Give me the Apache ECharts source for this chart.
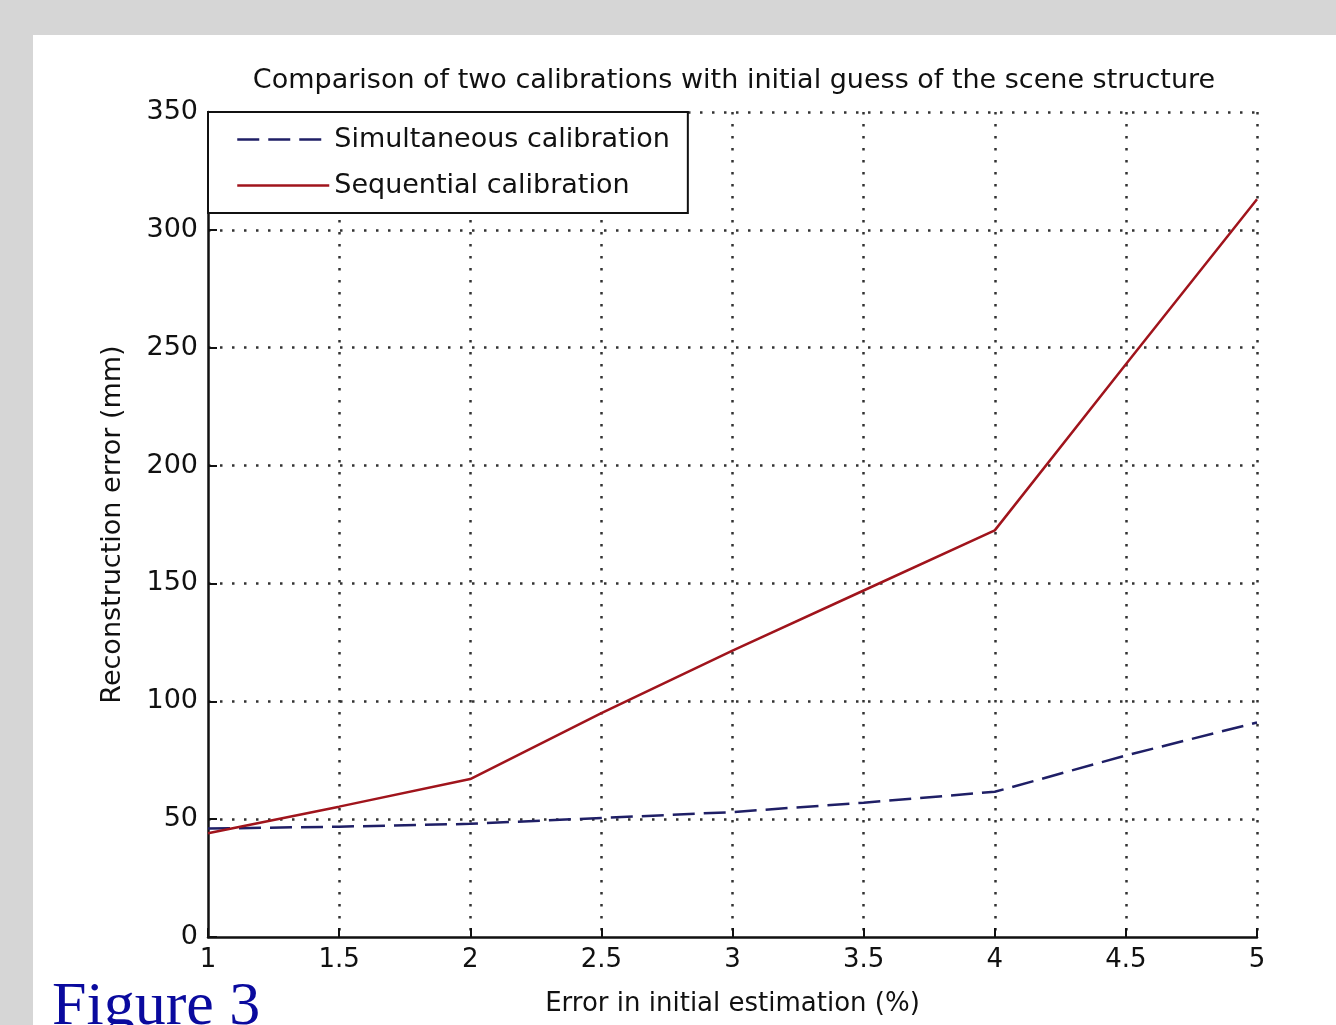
<!DOCTYPE html>
<html>
<head>
<meta charset="utf-8">
<script src="https://cdn.jsdelivr.net/npm/echarts@6/dist/echarts.min.js"></script>
<style>
html,body{margin:0;padding:0;width:1336px;height:1025px;overflow:hidden;background:#d6d6d6;}
#chart{position:absolute;left:33px;top:35px;width:1303px;height:990px;background:#ffffff;}
</style>
</head>
<body>
<div id="chart"></div>
<script>
// Data
var xValues = [1, 1.5, 2, 2.5, 3, 3.5, 4, 4.5, 5];
var simultaneous = [46, 46.8, 48, 50.5, 53, 57, 61.6, 77, 91];
var sequential = [44, 55.3, 67, 95, 121.5, 147, 172.5, 243, 313];
var seriesNames = ['Simultaneous calibration', 'Sequential calibration'];
var titleText = 'Comparison of two calibrations with initial guess of the scene structure';
var xAxisName = 'Error in initial estimation (%)';
var yAxisName = 'Reconstruction error (mm)';
var figureLabel = 'Figure 3';

function pairs(xs, ys) { return xs.map(function (x, i) { return [x, ys[i]]; }); }

var FONT = 'DejaVu Sans';
var chart = echarts.init(document.getElementById('chart'));
chart.setOption({
  backgroundColor: '#ffffff',
  animation: false,
  title: {
    text: titleText,
    left: 696,
    top: 27,
    textAlign: 'center',
    textStyle: { fontFamily: FONT, fontSize: 27, fontWeight: 'normal', color: '#111' }
  },
  grid: { left: 175, top: 77, right: 79, bottom: 88, containLabel: false },
  legend: {
    left: 175,
    top: 77,
    orient: 'vertical',
    backgroundColor: '#ffffff',
    borderColor: '#111',
    borderWidth: 2,
    borderRadius: 0,
    padding: [14, 18, 14, 28],
    itemGap: 19,
    itemWidth: 92,
    itemHeight: 27,
    itemStyle: { opacity: 0 },
    lineStyle: { width: 2.5 },
    textStyle: { fontFamily: FONT, fontSize: 27, color: '#111' },
    data: seriesNames
  },
  xAxis: {
    type: 'value',
    min: 1, max: 5, interval: 0.5,
    name: xAxisName,
    nameLocation: 'middle',
    nameGap: 54,
    nameTextStyle: { fontFamily: FONT, fontSize: 26, color: '#111' },
    axisLine: { show: true, onZero: false, lineStyle: { color: '#111', width: 2.5 } },
    axisTick: { show: true, inside: true, length: 9, lineStyle: { color: '#111', width: 2 } },
    axisLabel: { fontFamily: FONT, fontSize: 26, color: '#111', margin: 10 },
    splitLine: { show: true, showMinLine: false, lineStyle: { color: '#333', width: 2.5, type: [2.5, 9.5] } }
  },
  yAxis: {
    type: 'value',
    min: 0, max: 350, interval: 50,
    name: yAxisName,
    nameLocation: 'middle',
    nameGap: 82,
    nameTextStyle: { fontFamily: FONT, fontSize: 27, color: '#111' },
    axisLine: { show: true, onZero: false, lineStyle: { color: '#111', width: 2.5 } },
    axisTick: { show: true, inside: true, length: 9, lineStyle: { color: '#111', width: 2 } },
    axisLabel: { fontFamily: FONT, fontSize: 27, color: '#111', margin: 10 },
    splitLine: { show: true, showMinLine: false, lineStyle: { color: '#333', width: 2.5, type: [2.5, 9.5] } }
  },
  series: [
    {
      name: seriesNames[0],
      type: 'line',
      data: pairs(xValues, simultaneous),
      symbol: 'none',
      color: '#1f1f66',
      lineStyle: { color: '#1f1f66', width: 2.5, type: [22, 9] },
      z: 3
    },
    {
      name: seriesNames[1],
      type: 'line',
      data: pairs(xValues, sequential),
      symbol: 'none',
      color: '#a0141c',
      lineStyle: { color: '#a0141c', width: 2.5 },
      z: 4
    }
  ],
  graphic: [
    {
      type: 'text',
      left: 19,
      top: 942,
      z: 10,
      style: {
        text: figureLabel,
        fill: '#0a0a9e',
        font: '62px "Liberation Serif", "Times New Roman", serif'
      }
    }
  ]
});
</script>
</body>
</html>
